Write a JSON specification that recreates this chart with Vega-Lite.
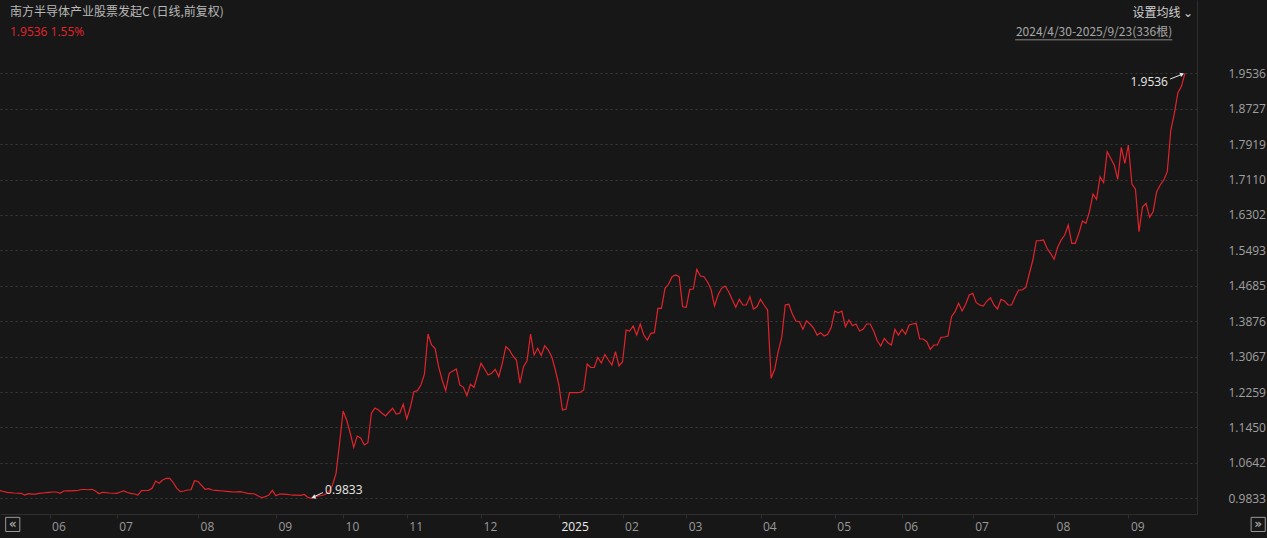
{
  "$schema": "https://vega.github.io/schema/vega-lite/v6.json",
  "width": 1197,
  "height": 514,
  "autosize": {"type": "none"},
  "padding": {"left": 0, "top": 0, "right": 70, "bottom": 24},
  "background": "#171717",
  "config": {"view": {"stroke": null}, "font": "Open Sans"},
  "datasets": {
    "nav": [
{"i":0,"v":1.0007},{"i":1,"v":0.9988},{"i":2,"v":0.9970},{"i":3,"v":0.9961},{"i":4,"v":0.9954},{"i":5,"v":0.9949},{"i":6,"v":0.9947},{"i":7,"v":0.9908},{"i":8,"v":0.9938},{"i":9,"v":0.9931},
{"i":10,"v":0.9931},{"i":11,"v":0.9947},{"i":12,"v":0.9954},{"i":13,"v":0.9961},{"i":14,"v":0.9970},{"i":15,"v":0.9977},{"i":16,"v":0.9977},{"i":17,"v":0.9947},{"i":18,"v":1.0000},{"i":19,"v":1.0004},
{"i":20,"v":1.0004},{"i":21,"v":1.0007},{"i":22,"v":1.0011},{"i":23,"v":1.0034},{"i":24,"v":1.0034},{"i":25,"v":1.0029},{"i":26,"v":1.0039},{"i":27,"v":1.0000},{"i":28,"v":0.9938},{"i":29,"v":0.9970},
{"i":30,"v":0.9961},{"i":31,"v":0.9954},{"i":32,"v":0.9949},{"i":33,"v":0.9947},{"i":34,"v":0.9977},{"i":35,"v":1.0000},{"i":36,"v":0.9965},{"i":37,"v":0.9947},{"i":38,"v":0.9931},{"i":39,"v":0.9908},
{"i":40,"v":1.0007},{"i":41,"v":1.0011},{"i":42,"v":1.0016},{"i":43,"v":1.0061},{"i":44,"v":1.0228},{"i":45,"v":1.0176},{"i":46,"v":1.0251},{"i":47,"v":1.0290},{"i":48,"v":1.0290},{"i":49,"v":1.0189},
{"i":50,"v":1.0061},{"i":51,"v":0.9984},{"i":52,"v":1.0000},{"i":53,"v":1.0023},{"i":54,"v":1.0029},{"i":55,"v":1.0235},{"i":56,"v":1.0217},{"i":57,"v":1.0125},{"i":58,"v":1.0039},{"i":59,"v":1.0052},
{"i":60,"v":1.0023},{"i":61,"v":1.0016},{"i":62,"v":1.0007},{"i":63,"v":1.0000},{"i":64,"v":0.9993},{"i":65,"v":0.9986},{"i":66,"v":0.9977},{"i":67,"v":0.9981},{"i":68,"v":0.9984},{"i":69,"v":0.9965},
{"i":70,"v":0.9947},{"i":71,"v":0.9938},{"i":72,"v":0.9931},{"i":73,"v":0.9886},{"i":74,"v":0.9847},{"i":75,"v":0.9870},{"i":76,"v":0.9908},{"i":77,"v":1.0016},{"i":78,"v":0.9892},{"i":79,"v":0.9931},
{"i":80,"v":0.9927},{"i":81,"v":0.9924},{"i":82,"v":0.9915},{"i":83,"v":0.9908},{"i":84,"v":0.9904},{"i":85,"v":0.9901},{"i":86,"v":0.9920},{"i":87,"v":0.9856},{"i":88,"v":0.9833},{"i":89,"v":0.9870},
{"i":90,"v":0.9886},{"i":91,"v":0.9897},{"i":92,"v":0.9924},{"i":93,"v":0.9984},{"i":94,"v":1.0137},{"i":95,"v":1.0404},{"i":96,"v":1.1089},{"i":97,"v":1.1826},{"i":98,"v":1.1621},{"i":99,"v":1.1324},
{"i":100,"v":1.0997},{"i":101,"v":1.1255},{"i":102,"v":1.1210},{"i":103,"v":1.1050},{"i":104,"v":1.1102},{"i":105,"v":1.1774},{"i":106,"v":1.1895},{"i":107,"v":1.1849},{"i":108,"v":1.1774},{"i":109,"v":1.1712},
{"i":110,"v":1.1803},{"i":111,"v":1.1888},{"i":112,"v":1.1758},{"i":113,"v":1.1774},{"i":114,"v":1.1979},{"i":115,"v":1.1643},{"i":116,"v":1.1911},{"i":117,"v":1.2267},{"i":118,"v":1.2290},{"i":119,"v":1.2420},
{"i":120,"v":1.2671},{"i":121,"v":1.3584},{"i":122,"v":1.3333},{"i":123,"v":1.3258},{"i":124,"v":1.2837},{"i":125,"v":1.2534},{"i":126,"v":1.2290},{"i":127,"v":1.2687},{"i":128,"v":1.2739},{"i":129,"v":1.2785},
{"i":130,"v":1.2420},{"i":131,"v":1.2367},{"i":132,"v":1.2175},{"i":133,"v":1.2436},{"i":134,"v":1.2367},{"i":135,"v":1.2648},{"i":136,"v":1.2915},{"i":137,"v":1.2785},{"i":138,"v":1.2648},{"i":139,"v":1.2687},
{"i":140,"v":1.2778},{"i":141,"v":1.2609},{"i":142,"v":1.2915},{"i":143,"v":1.3294},{"i":144,"v":1.3219},{"i":145,"v":1.3082},{"i":146,"v":1.2990},{"i":147,"v":1.2459},{"i":148,"v":1.2837},{"i":149,"v":1.2974},
{"i":150,"v":1.3584},{"i":151,"v":1.3105},{"i":152,"v":1.3258},{"i":153,"v":1.3093},{"i":154,"v":1.3317},{"i":155,"v":1.3219},{"i":156,"v":1.3059},{"i":157,"v":1.2762},{"i":158,"v":1.2420},{"i":159,"v":1.1849},
{"i":160,"v":1.1865},{"i":161,"v":1.2244},{"i":162,"v":1.2244},{"i":163,"v":1.2244},{"i":164,"v":1.2248},{"i":165,"v":1.2306},{"i":166,"v":1.2899},{"i":167,"v":1.2819},{"i":168,"v":1.2819},{"i":169,"v":1.3052},
{"i":170,"v":1.2922},{"i":171,"v":1.3116},{"i":172,"v":1.2990},{"i":173,"v":1.2876},{"i":174,"v":1.3180},{"i":175,"v":1.2853},{"i":176,"v":1.2952},{"i":177,"v":1.3675},{"i":178,"v":1.3653},{"i":179,"v":1.3767},
{"i":180,"v":1.3561},{"i":181,"v":1.3812},{"i":182,"v":1.3561},{"i":183,"v":1.3447},{"i":184,"v":1.3600},{"i":185,"v":1.3614},{"i":186,"v":1.4171},{"i":187,"v":1.4171},{"i":188,"v":1.4627},{"i":189,"v":1.4719},
{"i":190,"v":1.4892},{"i":191,"v":1.4931},{"i":192,"v":1.4892},{"i":193,"v":1.4207},{"i":194,"v":1.4194},{"i":195,"v":1.4605},{"i":196,"v":1.4611},{"i":197,"v":1.5061},{"i":198,"v":1.4908},{"i":199,"v":1.4892},
{"i":200,"v":1.4778},{"i":201,"v":1.4605},{"i":202,"v":1.4223},{"i":203,"v":1.4474},{"i":204,"v":1.4627},{"i":205,"v":1.4680},{"i":206,"v":1.4550},{"i":207,"v":1.4372},{"i":208,"v":1.4194},{"i":209,"v":1.4376},
{"i":210,"v":1.4246},{"i":211,"v":1.4246},{"i":212,"v":1.4436},{"i":213,"v":1.4155},{"i":214,"v":1.4207},{"i":215,"v":1.4376},{"i":216,"v":1.4246},{"i":217,"v":1.4132},{"i":218,"v":1.2573},{"i":219,"v":1.2778},
{"i":220,"v":1.3180},{"i":221,"v":1.3509},{"i":222,"v":1.4246},{"i":223,"v":1.4262},{"i":224,"v":1.4041},{"i":225,"v":1.3881},{"i":226,"v":1.3865},{"i":227,"v":1.3691},{"i":228,"v":1.3888},{"i":229,"v":1.3812},
{"i":230,"v":1.3721},{"i":231,"v":1.3561},{"i":232,"v":1.3614},{"i":233,"v":1.3538},{"i":234,"v":1.3577},{"i":235,"v":1.3737},{"i":236,"v":1.4109},{"i":237,"v":1.4070},{"i":238,"v":1.4109},{"i":239,"v":1.3751},
{"i":240,"v":1.3904},{"i":241,"v":1.3774},{"i":242,"v":1.3812},{"i":243,"v":1.3653},{"i":244,"v":1.3691},{"i":245,"v":1.3812},{"i":246,"v":1.3812},{"i":247,"v":1.3653},{"i":248,"v":1.3431},{"i":249,"v":1.3310},
{"i":250,"v":1.3486},{"i":251,"v":1.3385},{"i":252,"v":1.3333},{"i":253,"v":1.3691},{"i":254,"v":1.3561},{"i":255,"v":1.3691},{"i":256,"v":1.3577},{"i":257,"v":1.3789},{"i":258,"v":1.3812},{"i":259,"v":1.3828},
{"i":260,"v":1.3470},{"i":261,"v":1.3470},{"i":262,"v":1.3408},{"i":263,"v":1.3235},{"i":264,"v":1.3333},{"i":265,"v":1.3333},{"i":266,"v":1.3509},{"i":267,"v":1.3516},{"i":268,"v":1.3538},{"i":269,"v":1.3979},
{"i":270,"v":1.4093},{"i":271,"v":1.4285},{"i":272,"v":1.4109},{"i":273,"v":1.4262},{"i":274,"v":1.4474},{"i":275,"v":1.4513},{"i":276,"v":1.4299},{"i":277,"v":1.4246},{"i":278,"v":1.4223},{"i":279,"v":1.4337},
{"i":280,"v":1.4413},{"i":281,"v":1.4246},{"i":282,"v":1.4155},{"i":283,"v":1.4376},{"i":284,"v":1.4337},{"i":285,"v":1.4246},{"i":286,"v":1.4246},{"i":287,"v":1.4436},{"i":288,"v":1.4589},{"i":289,"v":1.4589},
{"i":290,"v":1.4650},{"i":291,"v":1.4965},{"i":292,"v":1.5273},{"i":293,"v":1.5714},{"i":294,"v":1.5718},{"i":295,"v":1.5730},{"i":296,"v":1.5541},{"i":297,"v":1.5426},{"i":298,"v":1.5289},{"i":299,"v":1.5563},
{"i":300,"v":1.5730},{"i":301,"v":1.5844},{"i":302,"v":1.6072},{"i":303,"v":1.5655},{"i":304,"v":1.5655},{"i":305,"v":1.5883},{"i":306,"v":1.6164},{"i":307,"v":1.6111},{"i":308,"v":1.6376},{"i":309,"v":1.6780},
{"i":310,"v":1.6659},{"i":311,"v":1.7175},{"i":312,"v":1.7038},{"i":313,"v":1.7746},{"i":314,"v":1.7595},{"i":315,"v":1.7442},{"i":316,"v":1.7116},{"i":317,"v":1.7846},{"i":318,"v":1.7481},{"i":319,"v":1.7899},
{"i":320,"v":1.7009},{"i":321,"v":1.6888},{"i":322,"v":1.5920},{"i":323,"v":1.6490},{"i":324,"v":1.6568},{"i":325,"v":1.6248},{"i":326,"v":1.6376},{"i":327,"v":1.6833},{"i":328,"v":1.6986},{"i":329,"v":1.7100},
{"i":330,"v":1.7289},{"i":331,"v":1.8241},{"i":332,"v":1.8623},{"i":333,"v":1.9093},{"i":334,"v":1.9238},{"i":335,"v":1.9536}
    ]
  },
  "layer": [
    {
      "data": {"name": "nav"},
      "mark": {"type": "line", "color": "#e3232c", "strokeWidth": 1.2},
      "encoding": {
        "x": {
          "field": "i", "type": "quantitative",
          "scale": {"domain": [0, 338.4], "nice": false, "zero": false},
          "axis": {
            "title": null, "grid": false,
            "values": [14,33,56,78,97,115,136,158,176,194,215,236,255,275,298,319],
            "labelExpr": "['06','07','08','09','10','11','12','2025','02','03','04','05','06','07','08','09'][indexof([14,33,56,78,97,115,136,158,176,194,215,236,255,275,298,319], datum.value)]",
            "labelAlign": "left", "labelOffset": 2, "labelPadding": 3, "labelBaseline": "top",
            "labelFontSize": 12, "labelFont": "Open Sans",
            "labelColor": {"condition": {"test": "datum.value == 158", "value": "#ececec"}, "value": "#9a9a9a"},
            "domainColor": "#2e2e2e", "tickColor": "#2e2e2e", "tickSize": 4
          }
        },
        "y": {
          "field": "v", "type": "quantitative",
          "scale": {"domain": [0.9475, 2.1209], "nice": false, "zero": false},
          "axis": {
            "orient": "right", "title": null,
            "values": [0.9833,1.0642,1.1450,1.2259,1.3067,1.3876,1.4685,1.5493,1.6302,1.7110,1.7919,1.8727,1.9536],
            "format": ".4f",
            "grid": true, "gridColor": "#3a3a3a", "gridDash": [2, 3], "gridWidth": 1,
            "ticks": false, "labelPadding": 31, "labelAlign": "left",
            "labelFontSize": 12, "labelFont": "Open Sans", "labelColor": "#a0a0a0",
            "domainColor": "#2e2e2e"
          }
        }
      }
    },
    {
      "data": {"values": [{}]},
      "mark": {"type": "text", "align": "left", "baseline": "middle", "fontSize": 12, "font": "Noto Sans CJK SC", "color": "#b8b8b8"},
      "encoding": {"x": {"datum": 2.83, "type": "quantitative"}, "y": {"datum": 2.0935, "type": "quantitative"}, "text": {"value": "南方半导体产业股票发起C (日线,前复权)"}}
    },
    {
      "data": {"values": [{}]},
      "mark": {"type": "text", "align": "left", "baseline": "middle", "fontSize": 12, "font": "Open Sans", "color": "#e3232c"},
      "encoding": {"x": {"datum": 2.83, "type": "quantitative"}, "y": {"datum": 2.0478, "type": "quantitative"}, "text": {"value": "1.9536 1.55%"}}
    },
    {
      "data": {"values": [{}]},
      "mark": {"type": "text", "align": "right", "baseline": "middle", "fontSize": 12, "font": "Noto Sans CJK SC", "color": "#d0d0d0"},
      "encoding": {"x": {"datum": 337.3, "type": "quantitative"}, "y": {"datum": 2.0912, "type": "quantitative"}, "text": {"value": "设置均线 ⌄"}}
    },
    {
      "data": {"values": [{}]},
      "mark": {"type": "text", "align": "right", "baseline": "middle", "fontSize": 12, "font": "Noto Sans CJK SC", "color": "#a8a8a8"},
      "encoding": {"x": {"datum": 331.4, "type": "quantitative"}, "y": {"datum": 2.0478, "type": "quantitative"}, "text": {"value": "2024/4/30-2025/9/23(336根)"}}
    },
    {
      "data": {"values": [{}]},
      "mark": {"type": "rule", "color": "#8a8a8a", "strokeWidth": 1},
      "encoding": {"x": {"datum": 287, "type": "quantitative"}, "x2": {"datum": 331.4}, "y": {"datum": 2.0300, "type": "quantitative"}}
    },
    {
      "data": {"values": [{}]},
      "mark": {"type": "text", "align": "left", "baseline": "middle", "fontSize": 12, "font": "Open Sans", "color": "#e8e8e8"},
      "encoding": {"x": {"datum": 91.9, "type": "quantitative"}, "y": {"datum": 1.0023, "type": "quantitative"}, "text": {"value": "0.9833"}}
    },
    {
      "data": {"values": [{}]},
      "mark": {"type": "rule", "color": "#e8e8e8", "strokeWidth": 1},
      "encoding": {"x": {"datum": 91.3, "type": "quantitative"}, "x2": {"datum": 88.3}, "y": {"datum": 0.9965, "type": "quantitative"}, "y2": {"datum": 0.9852}}
    },
    {
      "data": {"values": [{}]},
      "mark": {"type": "point", "shape": "triangle-right", "filled": true, "color": "#e8e8e8", "size": 22, "angle": 159, "opacity": 1},
      "encoding": {"x": {"datum": 88.6, "type": "quantitative"}, "y": {"datum": 0.9857, "type": "quantitative"}}
    },
    {
      "data": {"values": [{}]},
      "mark": {"type": "text", "align": "right", "baseline": "middle", "fontSize": 12, "font": "Open Sans", "color": "#e8e8e8"},
      "encoding": {"x": {"datum": 330.2, "type": "quantitative"}, "y": {"datum": 1.9337, "type": "quantitative"}, "text": {"value": "1.9536"}}
    },
    {
      "data": {"values": [{}]},
      "mark": {"type": "rule", "color": "#e8e8e8", "strokeWidth": 1},
      "encoding": {"x": {"datum": 330.8, "type": "quantitative"}, "x2": {"datum": 334.4}, "y": {"datum": 1.9405, "type": "quantitative"}, "y2": {"datum": 1.9519}}
    },
    {
      "data": {"values": [{}]},
      "mark": {"type": "point", "shape": "triangle-right", "filled": true, "color": "#e8e8e8", "size": 22, "angle": 339, "opacity": 1},
      "encoding": {"x": {"datum": 334.2, "type": "quantitative"}, "y": {"datum": 1.9515, "type": "quantitative"}}
    },
    {
      "data": {"values": [{}]},
      "mark": {"type": "point", "shape": "square", "filled": false, "color": "#9a9a9a", "size": 200, "strokeWidth": 1, "opacity": 1},
      "encoding": {"x": {"datum": 3.6, "type": "quantitative"}, "y": {"datum": 0.9237, "type": "quantitative"}}
    },
    {
      "data": {"values": [{}]},
      "mark": {"type": "text", "align": "center", "baseline": "middle", "fontSize": 13, "font": "DejaVu Sans", "color": "#c0c0c0"},
      "encoding": {"x": {"datum": 3.6, "type": "quantitative"}, "y": {"datum": 0.9237, "type": "quantitative"}, "text": {"value": "«"}}
    },
    {
      "data": {"values": [{}]},
      "mark": {"type": "point", "shape": "square", "filled": false, "color": "#9a9a9a", "size": 200, "strokeWidth": 1, "opacity": 1},
      "encoding": {"x": {"datum": 355.7, "type": "quantitative"}, "y": {"datum": 0.9237, "type": "quantitative"}}
    },
    {
      "data": {"values": [{}]},
      "mark": {"type": "text", "align": "center", "baseline": "middle", "fontSize": 13, "font": "DejaVu Sans", "color": "#c0c0c0"},
      "encoding": {"x": {"datum": 355.7, "type": "quantitative"}, "y": {"datum": 0.9237, "type": "quantitative"}, "text": {"value": "»"}}
    }
  ]
}
